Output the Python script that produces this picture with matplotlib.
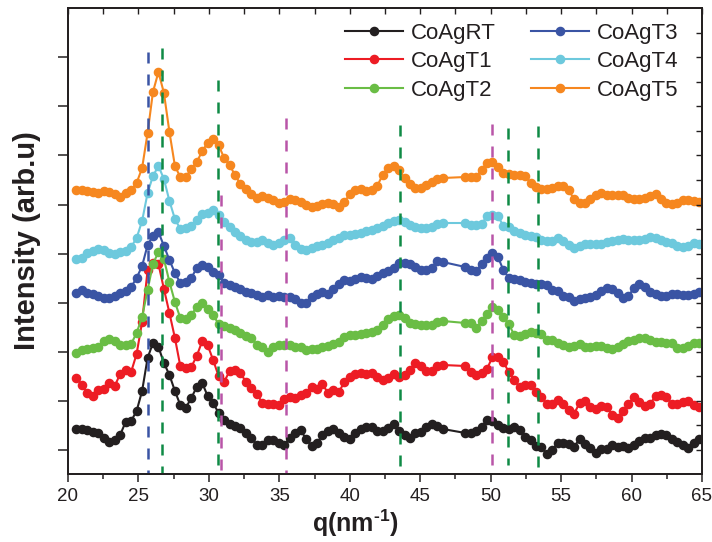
import matplotlib
matplotlib.use("Agg")
import matplotlib.pyplot as plt

plt.rcParams['font.family'] = ['Liberation Sans', 'DejaVu Sans']
plt.rcParams['mathtext.fontset'] = 'custom'
plt.rcParams['mathtext.rm'] = 'Liberation Sans'
plt.rcParams['mathtext.bf'] = 'Liberation Sans:bold'

# scattering vector grid (nm^-1); no data recorded between 46.6 and 48.2
q_low = [20.60, 20.99, 21.38, 21.76, 22.15, 22.54, 22.93, 23.32, 23.70, 24.09,
         24.48, 24.87, 25.26, 25.65, 26.03, 26.42, 26.81, 27.20, 27.59, 27.97,
         28.36, 28.75, 29.14, 29.53, 29.91, 30.30, 30.69, 31.08, 31.47, 31.85,
         32.24, 32.63, 33.02, 33.41, 33.80, 34.18, 34.57, 34.96, 35.35, 35.74,
         36.12, 36.51, 36.90, 37.29, 37.68, 38.06, 38.45, 38.84, 39.23, 39.62,
         40.01, 40.39, 40.78, 41.17, 41.56, 41.95, 42.33, 42.72, 43.11, 43.50,
         43.89, 44.27, 44.66, 45.05, 45.44, 45.83, 46.21, 46.60]
q_high = [48.20, 48.59, 48.97, 49.36, 49.74, 50.13, 50.52, 50.90, 51.29, 51.67,
          52.06, 52.45, 52.83, 53.22, 53.60, 53.99, 54.38, 54.76, 55.15, 55.53,
          55.92, 56.31, 56.69, 57.08, 57.46, 57.85, 58.24, 58.62, 59.01, 59.39,
          59.78, 60.17, 60.55, 60.94, 61.32, 61.71, 62.10, 62.48, 62.87, 63.25,
          63.64, 64.02, 64.41, 64.80]
q = q_low + q_high

# vertically offset intensity profiles (arb. units)
co_ag_rt = [21, 21, 20, 18, 17, 12, 8, 10, 15, 28,
            29, 39, 59, 92, 107, 103, 87, 75, 59, 45,
            42, 52, 63, 67, 54, 47, 37, 30, 26, 24,
            22, 17, 12, 5, 5, 10, 10, 7, 5, 12,
            17, 20, 11, 4, 7, 15, 19, 21, 17, 13,
            11, 17, 21, 23, 23, 19, 19, 22, 26, 19,
            15, 12, 17, 18, 23, 26, 24, 21,
            17, 17, 19, 23, 30, 29, 25, 22, 21, 23,
            20, 13, 10, 4, 3, -4, 0, 7, 7, 6,
            3, 11, 6, 2, -3, 1, 1, 5, 3, 4,
            2, 5, 9, 12, 12, 15, 16, 15, 11, 8,
            5, 2, 7, 11]
co_ag_t1 = [72, 65, 57, 54, 60, 61, 67, 64, 76, 80,
            78, 96, 128, 180, 187, 186, 161, 137, 112, 84,
            82, 83, 94, 109, 105, 90, 74, 68, 79, 80,
            77, 68, 62, 56, 47, 46, 46, 45, 51, 53,
            52, 55, 57, 63, 61, 66, 57, 60, 58, 68,
            73, 76, 77, 76, 77, 73, 70, 72, 76, 73,
            75, 80, 87, 84, 79, 79, 84, 85,
            84, 78, 75, 77, 81, 93, 93, 88, 78, 70,
            63, 65, 65, 58, 53, 46, 46, 50, 46, 40,
            36, 47, 49, 43, 41, 44, 43, 35, 32, 39,
            46, 53, 48, 44, 46, 54, 55, 53, 46, 46,
            48, 49, 45, 43]
co_ag_t2 = [97, 100, 101, 102, 103, 109, 111, 109, 105, 105,
            106, 117, 133, 160, 186, 198, 191, 168, 148, 132,
            131, 135, 143, 147, 141, 135, 126, 124, 122, 120,
            117, 114, 112, 105, 103, 98, 103, 105, 105, 105,
            103, 103, 100, 101, 101, 103, 104, 106, 108, 113,
            115, 115, 116, 117, 118, 120, 125, 131, 134, 135,
            132, 127, 126, 125, 125, 125, 128, 129,
            127, 127, 122, 129, 136, 143, 140, 133, 126, 115,
            114, 116, 118, 117, 116, 110, 110, 107, 105, 103,
            104, 106, 103, 103, 104, 104, 102, 101, 103, 106,
            109, 110, 112, 112, 110, 108, 108, 107, 107, 102,
            102, 104, 107, 107]
co_ag_t3 = [157, 160, 157, 156, 154, 152, 152, 154, 157, 159,
            163, 172, 184, 205, 214, 218, 204, 190, 177, 167,
            168, 172, 182, 185, 183, 178, 175, 167, 165, 163,
            161, 158, 157, 155, 153, 155, 153, 154, 153, 153,
            151, 147, 147, 153, 156, 158, 156, 161, 166, 170,
            169, 171, 173, 172, 171, 174, 177, 179, 182, 187,
            187, 186, 183, 180, 180, 182, 189, 188,
            183, 180, 179, 186, 192, 197, 193, 180, 172, 171,
            170, 168, 167, 166, 166, 165, 160, 159, 154, 153,
            149, 151, 152, 153, 155, 159, 162, 161, 157, 152,
            154, 162, 166, 163, 158, 156, 154, 154, 156, 156,
            155, 155, 156, 158]
co_ag_t4 = [191, 192, 197, 199, 201, 200, 197, 196, 198, 199,
            203, 212, 229, 257, 274, 284, 271, 249, 231, 221,
            222, 224, 230, 236, 237, 240, 235, 228, 223, 218,
            214, 210, 208, 208, 210, 207, 205, 207, 210, 212,
            205, 201, 200, 202, 204, 205, 207, 210, 212, 215,
            215, 216, 217, 219, 220, 222, 224, 227, 229, 230,
            228, 225, 223, 222, 222, 223, 226, 227,
            227, 225, 225, 226, 234, 235, 234, 224, 223, 219,
            217, 215, 214, 213, 210, 209, 209, 212, 209, 205,
            202, 204, 206, 206, 206, 206, 208, 209, 210, 211,
            210, 210, 210, 211, 213, 212, 210, 208, 207, 204,
            203, 204, 207, 206]
co_ag_t5 = [260, 260, 259, 258, 257, 259, 258, 256, 253, 257,
            260, 267, 282, 317, 358, 378, 357, 318, 284, 273,
            273, 281, 288, 299, 307, 311, 305, 292, 285, 275,
            266, 261, 256, 252, 254, 252, 250, 247, 248, 251,
            250, 248, 245, 243, 244, 246, 247, 246, 243, 248,
            256, 260, 261, 259, 260, 264, 275, 282, 284, 280,
            272, 266, 262, 262, 265, 268, 271, 272,
            273, 273, 273, 280, 287, 288, 283, 277, 276, 275,
            275, 274, 267, 263, 261, 261, 262, 264, 264, 260,
            251, 247, 247, 251, 255, 257, 255, 255, 255, 255,
            252, 251, 251, 252, 254, 256, 251, 247, 246, 247,
            250, 250, 249, 248]

series = [co_ag_rt, co_ag_t1, co_ag_t2, co_ag_t3, co_ag_t4, co_ag_t5]
labels = ["CoAgRT", "CoAgT1", "CoAgT2", "CoAgT3", "CoAgT4", "CoAgT5"]
colors = ["#231f20", "#ed1c24", "#6abd45", "#3a54a4", "#6dc9dd", "#f6871f"]

# reference peak positions (q), upper and lower ends of each marker line
peak_q = [25.65, 26.68, 30.65, 30.87, 35.48, 43.60, 50.10, 51.20, 53.33]
peak_top = [398, 402, 370, 255, 332, 325, 326, 322, 324]
peak_bottom = [-24, -24, -15, -24, -24, -24, -24, -15, -24]
peak_colors = ["#3a54a4", "#0f8a45", "#0f8a45", "#b955a8", "#b955a8",
               "#0f8a45", "#b955a8", "#0f8a45", "#0f8a45"]

fig = plt.figure(figsize=(7.12, 5.42), dpi=100)
ax = fig.add_axes([0.0955, 0.1255, 0.8904, 0.8597])

for ys, lab, col in zip(series, labels, colors):
    ax.plot(q, ys, color=col, lw=1.5, marker='o', ms=5.9,
            mec=col, mfc=col, label=lab, zorder=3)

for xq, yt, yb, col in zip(peak_q, peak_top, peak_bottom, peak_colors):
    ax.plot([xq, xq], [yt, yb], color=col, lw=1.8, ls=(0, (4.4, 4.4)),
            zorder=5, solid_capstyle='butt', dash_capstyle='butt')

ax.set_xlim(20, 65)
ax.set_ylim(-24, 442)

ax.set_xticks([20, 25, 30, 35, 40, 45, 50, 55, 60, 65])
ax.set_xticks([22.5, 27.5, 32.5, 37.5, 42.5, 47.5, 52.5, 57.5, 62.5], minor=True)
ax.set_yticks([49.1 * k for k in range(9)])
ax.set_yticklabels([])
ax.tick_params(axis='x', which='major', direction='out', length=6, width=1.1,
               labelsize=13.5, pad=4, colors='#231f20')
ax.tick_params(axis='x', which='minor', direction='out', length=3.5, width=1.1,
               colors='#231f20')
ax.tick_params(axis='y', which='major', direction='out', length=7, width=1.1,
               colors='#231f20')

# inward ticks along the top and right edges
ax_top = ax.twiny()
ax_top.set_xlim(20, 65)
ax_top.set_xticks([20 + 2.5 * k for k in range(19)])
ax_top.tick_params(axis='x', direction='in', length=4, width=1.0,
                   labeltop=False, colors='#231f20')
ax_right = ax.twinx()
ax_right.set_ylim(-24, 442)
ax_right.set_yticks([24.55 * k for k in range(18)])
ax_right.tick_params(axis='y', direction='in', length=4, width=1.0,
                     labelright=False, colors='#231f20')

for a in (ax, ax_top, ax_right):
    for sp in a.spines.values():
        sp.set_linewidth(1.1)
        sp.set_color('#231f20')

ax.set_xlabel('q(nm$^{\\mathbf{\u2010}\\mathbf{1}}$)', fontsize=18,
              fontweight='bold', color='#231f20')
ax.xaxis.set_label_coords(0.453, -0.072)
ax.set_ylabel('Intensity (arb.u)', fontsize=21, fontweight='bold',
              color='#231f20')
ax.yaxis.set_label_coords(-0.042, 0.5)

leg = ax.legend(ncol=2, loc='upper left', bbox_to_anchor=(0.437, 0.968),
                frameon=False, fontsize=16, handlelength=2.6,
                handletextpad=0.36, columnspacing=1.6, labelspacing=0.33,
                borderpad=0, borderaxespad=0, numpoints=1)
for t in leg.get_texts():
    t.set_color('#231f20')

fig.savefig("out.png", dpi=100)
